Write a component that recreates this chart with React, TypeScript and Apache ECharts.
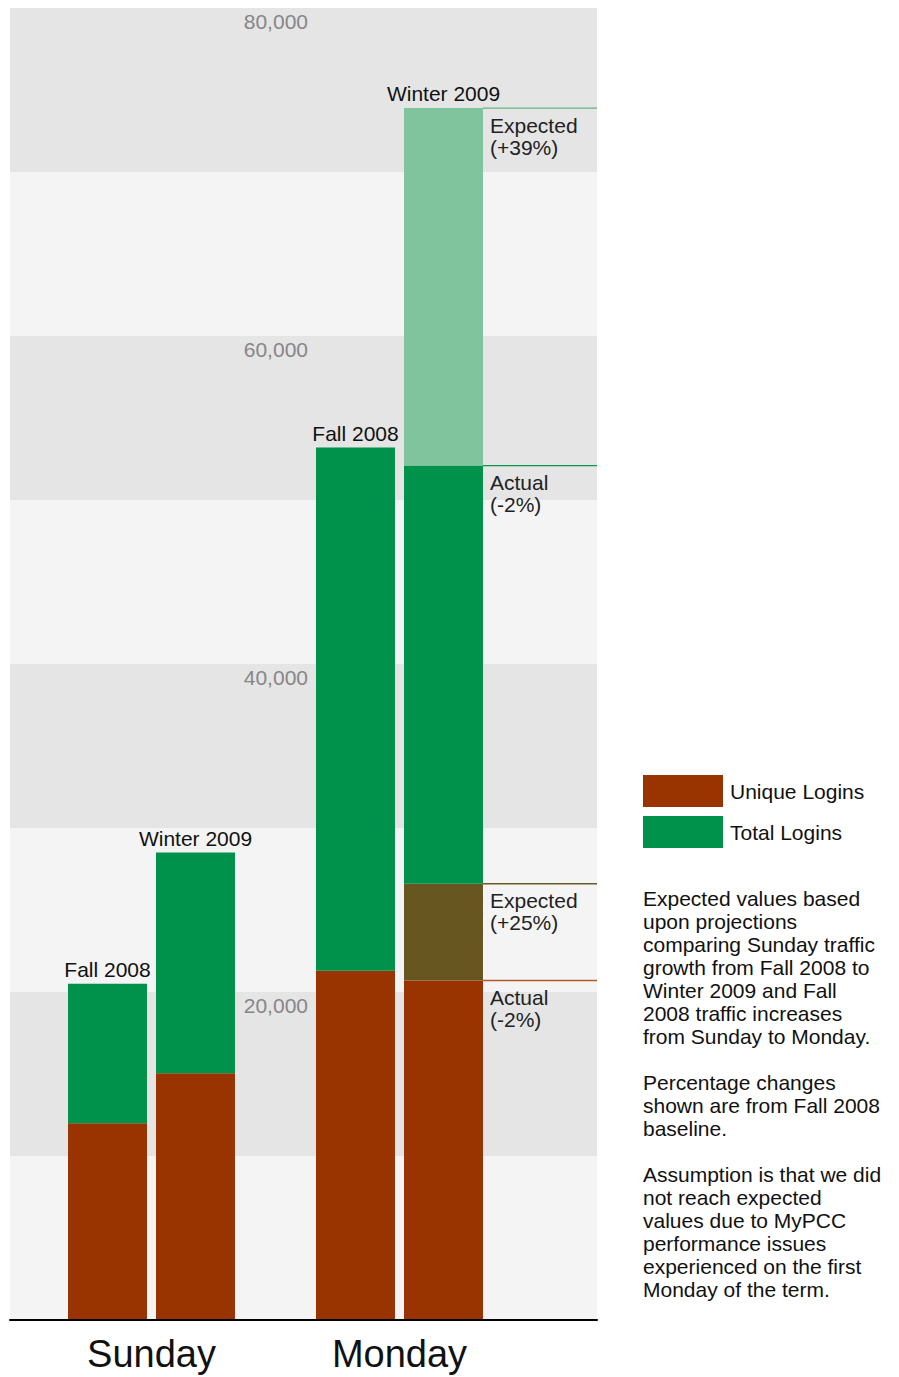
import React, { useEffect, useRef } from 'react';
import * as echarts from 'echarts';

// ---- data ----
const days = ['Sunday', 'Monday'];
const fallUnique = [12000, 21300];
const fallTotal = [20500, 53200];
const winterUnique = [15050, 20700];
const winterTotal = [28500, 52100];
const expectedUnique: (number | null)[] = [null, 26600];
const expectedTotal: (number | null)[] = [null, 73900];
const labeledTicks = [20000, 40000, 60000, 80000];
const seriesLabels = ['Fall 2008', 'Winter 2009'];
const legendNames = ['Unique Logins', 'Total Logins'];
const noteDay = 'Monday';
const noteLabels = ['Expected\n(+39%)', 'Actual\n(-2%)', 'Expected\n(+25%)', 'Actual\n(-2%)'];
const noteText = [
  'Expected values based',
  'upon projections',
  'comparing Sunday traffic',
  'growth from Fall 2008 to',
  'Winter 2009 and Fall',
  '2008 traffic increases',
  'from Sunday to Monday.',
  '',
  'Percentage changes',
  'shown are from Fall 2008',
  'baseline.',
  '',
  'Assumption is that we did',
  'not reach expected',
  'values due to MyPCC',
  'performance issues',
  'experienced on the first',
  'Monday of the term.',
];

// ---- style ----
const FONT = '"Liberation Sans", Arial, Helvetica, sans-serif';
const FS = 21;
const BROWN = '#993300';
const GREEN = '#00914a';
const LIGHT_GREEN = '#80c49e';
const OLIVE = '#675620';
const BAND_DARK = '#e5e5e5';
const BAND_LIGHT = '#f4f4f4';
const BAR_WIDTH = 79;
const BAR_GAP = 9;
const GRID_TOP = 8;
const GRID_BOTTOM = 57;
const GRID_LEFT = 10;
const GRID_RIGHT = 302;
const noteLineColors = ['#5fb585', '#0a9450', '#6b5a1f', '#b4582c'];

export default function App() {
  const ref = useRef<HTMLDivElement>(null);

  useEffect(() => {
    if (!ref.current) return;
    const chart = echarts.init(ref.current, null, { renderer: 'svg' });

    const mondayIdx = days.indexOf(noteDay);
    const noteValues = [
      expectedTotal[mondayIdx] as number,
      winterTotal[mondayIdx],
      expectedUnique[mondayIdx] as number,
      winterUnique[mondayIdx],
    ];

    const fallTop = days.map((_, i) => ({
      value: fallTotal[i] - fallUnique[i],
      label: { show: true, position: 'top', distance: 4, formatter: seriesLabels[0] },
    }));
    const expUniqueExtra = days.map((_, i) =>
      expectedUnique[i] == null ? '-' : (expectedUnique[i] as number) - winterUnique[i]
    );
    const winterGreen = days.map((_, i) => {
      const base = expectedUnique[i] == null ? winterUnique[i] : (expectedUnique[i] as number);
      const hasExp = expectedTotal[i] != null;
      return {
        value: winterTotal[i] - base,
        label: { show: !hasExp, position: 'top', distance: 4, formatter: seriesLabels[1] },
      };
    });
    const expTotalExtra = days.map((_, i) =>
      expectedTotal[i] == null
        ? '-'
        : {
            value: (expectedTotal[i] as number) - winterTotal[i],
            label: { show: true, position: 'top', distance: 4, formatter: seriesLabels[1] },
          }
    );

    const barCommon = {
      type: 'bar',
      xAxisIndex: 1,
      yAxisIndex: 1,
      barWidth: BAR_WIDTH,
      barGap: ((BAR_GAP / BAR_WIDTH) * 100).toFixed(2) + '%',
      label: { color: '#111', fontSize: FS, fontFamily: FONT },
    };

    chart.setOption({
      animation: false,
      textStyle: { fontFamily: FONT },
      grid: [
        { left: GRID_LEFT, right: GRID_RIGHT, top: GRID_TOP, bottom: GRID_BOTTOM },
        { left: 27.5, right: 375.5, top: GRID_TOP, bottom: GRID_BOTTOM },
      ],
      xAxis: [
        {
          type: 'value',
          gridIndex: 0,
          min: 0,
          max: 1,
          z: 10,
          axisLine: { show: true, onZero: false, lineStyle: { color: '#000', width: 2 } },
          axisTick: { show: false },
          axisLabel: { show: false },
          splitLine: { show: false },
        },
        {
          type: 'category',
          gridIndex: 1,
          data: days,
          axisLine: { show: false },
          axisTick: { show: false },
          axisLabel: { fontSize: 38, color: '#111', margin: 15, fontFamily: FONT },
        },
      ],
      yAxis: [
        {
          type: 'value',
          gridIndex: 0,
          min: 0,
          max: 80000,
          interval: 10000,
          position: 'left',
          offset: -298,
          axisLine: { show: false },
          axisTick: { show: false },
          splitLine: { show: false },
          splitArea: { show: true, areaStyle: { color: [BAND_LIGHT, BAND_DARK] } },
          axisLabel: {
            margin: 0,
            fontSize: FS,
            color: '#868686',
            verticalAlign: 'top',
            padding: [3, 0, 0, 0],
            formatter: (v: number) =>
              labeledTicks.includes(v) ? v.toLocaleString('en-US') : '',
          },
        },
        {
          type: 'value',
          gridIndex: 1,
          min: 0,
          max: 80000,
          show: false,
          splitLine: { show: false },
        },
      ],
      legend: {
        data: legendNames,
        orient: 'vertical',
        left: 643,
        top: 775,
        padding: 0,
        itemWidth: 80,
        itemHeight: 32,
        itemGap: 9,
        icon: 'rect',
        selectedMode: false,
        textStyle: { fontSize: FS, color: '#111', fontFamily: FONT, padding: [0, 0, 0, 2] },
      },
      graphic: [
        {
          type: 'text',
          left: 643,
          top: 887,
          style: {
            text: noteText.join('\n'),
            font: `${FS}px ${FONT}`,
            lineHeight: 23,
            fill: '#111',
          },
        },
      ],
      series: [
        { ...barCommon, name: legendNames[0], stack: 'fall', color: BROWN, data: fallUnique },
        { ...barCommon, name: legendNames[1], stack: 'fall', color: GREEN, data: fallTop },
        { ...barCommon, name: legendNames[0], stack: 'winter', color: BROWN, data: winterUnique },
        { ...barCommon, name: 'Expected Unique', stack: 'winter', color: OLIVE, data: expUniqueExtra },
        { ...barCommon, name: legendNames[1], stack: 'winter', color: GREEN, data: winterGreen },
        { ...barCommon, name: 'Expected Total', stack: 'winter', color: LIGHT_GREEN, data: expTotalExtra },
        {
          type: 'custom',
          name: 'Notes',
          xAxisIndex: 1,
          yAxisIndex: 1,
          clip: false,
          z: 5,
          data: noteValues.map((v) => [noteDay, v]),
          encode: { x: 0, y: 1 },
          renderItem: (params: any, api: any) => {
            const i = params.dataIndex;
            const p = api.coord([api.value(0), api.value(1)]);
            const x0 = p[0] + BAR_GAP / 2 + BAR_WIDTH;
            const x1 = api.getWidth() - GRID_RIGHT;
            return {
              type: 'group',
              children: [
                {
                  type: 'line',
                  shape: { x1: x0, y1: p[1], x2: x1, y2: p[1] },
                  style: { stroke: noteLineColors[i], lineWidth: 1.3 },
                },
                {
                  type: 'text',
                  x: x0 + 7,
                  y: p[1] + 6,
                  style: {
                    text: noteLabels[i],
                    font: `${FS}px ${FONT}`,
                    lineHeight: 22,
                    fill: '#222',
                    verticalAlign: 'top',
                  },
                },
              ],
            };
          },
        },
      ],
    });

    return () => chart.dispose();
  }, []);

  return (
    <div
      ref={ref}
      style={{ position: 'fixed', left: 0, top: 0, width: 899, height: 1377, background: '#fff' }}
    />
  );
}
